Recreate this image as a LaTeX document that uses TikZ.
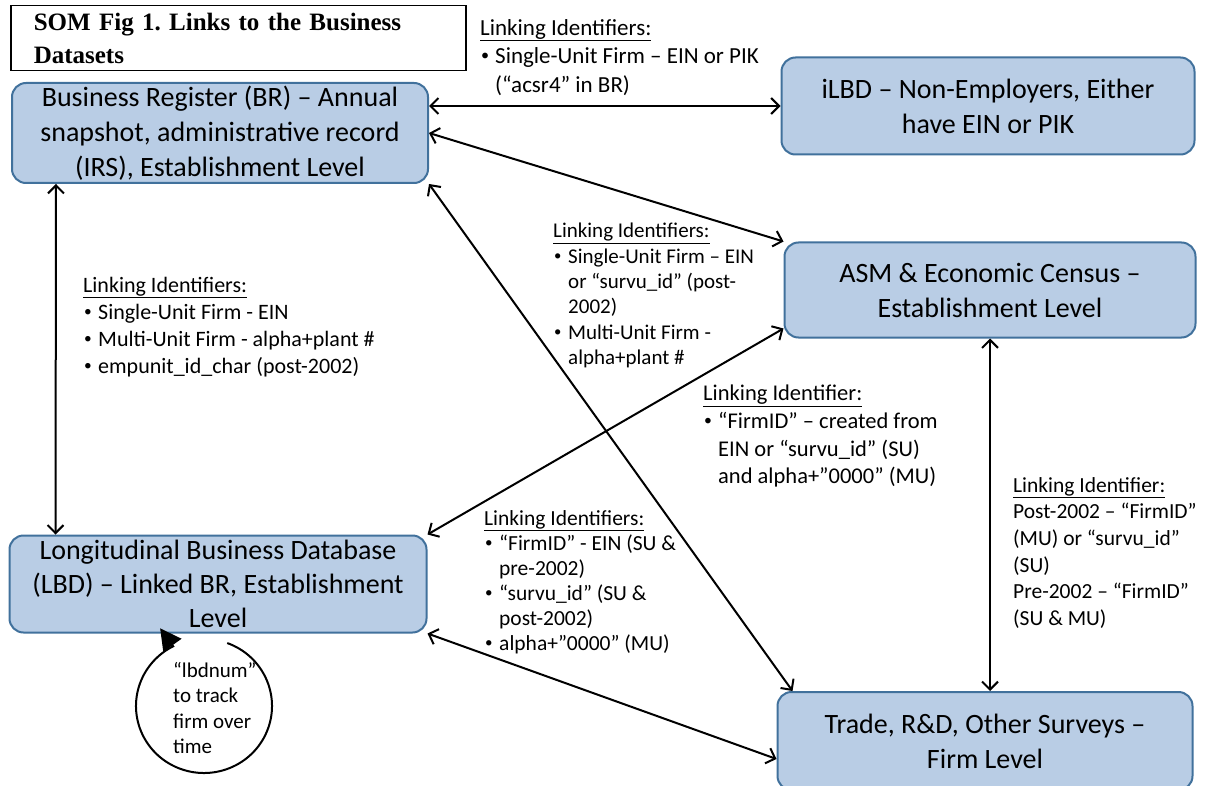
\documentclass[tikz,border=0pt]{standalone}
\usepackage{fontspec}
\setmainfont{Carlito}
\newfontfamily\titlefont{Liberation Serif}
\usetikzlibrary{arrows.meta,positioning,calc}
\definecolor{BoxFill}{RGB}{185,205,229}
\definecolor{BoxLine}{RGB}{65,113,156}

\tikzset{
	dataset/.style={draw=BoxLine, fill=BoxFill, line width=2pt, rounded corners=14pt,
		align=center, inner sep=0pt, font=\fontsize{28}{35}\selectfont},
	idlabel/.style={anchor=north west, align=left, inner sep=0pt, font=\fontsize{21}{25.4}\selectfont},
	link/.style={{Straight Barb[length=8pt,width=16pt]}-{Straight Barb[length=8pt,width=16pt]}, line width=2pt},
}
\newcommand{\bul}{\makebox[15pt][l]{\hspace{1pt}\raisebox{0.12em}{\scalebox{0.7}{\textbullet}}}}
\newcommand{\ind}{\makebox[15pt]{}}
\newcommand{\lhead}[1]{\underline{#1}}

\begin{document}
\frenchspacing
\begin{tikzpicture}[x=1pt, y=-1pt]
	\useasboundingbox (0,0) rectangle (1212,786);
	\fill[white] (0,0) rectangle (1212,786);
	% title
	\node[draw, line width=1.5pt, anchor=north west, text width=409pt, minimum height=65pt,
		inner xsep=23pt, align=left, font=\titlefont\bfseries\fontsize{25}{33}\selectfont]
		(title) at (10,5) {SOM Fig 1. Links to the Business\\Datasets};
	% datasets
	\node[dataset, minimum width=416pt, minimum height=100pt] (br) at (220,133)
		{Business Register (BR) – Annual\\snapshot, administrative record\\(IRS), Establishment Level};
	\node[dataset, minimum width=413pt, minimum height=97pt] (ilbd) at (988,106)
		{iLBD – Non-Employers, Either\\have EIN or PIK};
	\node[dataset, minimum width=411pt, minimum height=95pt] (asm) at (990,290)
		{ASM \& Economic Census –\\Establishment Level};
	\node[dataset, minimum width=417pt, minimum height=97pt, font=\fontsize{28}{34}\selectfont] (lbd) at (218,584)
		{Longitudinal Business Database\\(LBD) – Linked BR, Establishment\\Level};
	\node[dataset, minimum width=415pt, minimum height=98pt] (trade) at (985,741)
		{Trade, R\&D, Other Surveys –\\Firm Level};
	% links
	\draw[link] (br.east |- ilbd.west) -- (ilbd.west);
	\draw[link] (br.east) -- (asm.north west);
	\draw[link] ([xshift=45pt]br.south west) -- ([xshift=47pt]lbd.north west);
	\draw[link] (br.south east) -- ([xshift=16pt]trade.north west);
	\draw[link] ([yshift=10pt]asm.south west) -- (lbd.north east);
	\draw[link] (lbd.south east) -- ([yshift=-18pt]trade.west);
	\draw[link] (asm.south) -- (asm.south |- trade.north);
	% lbdnum loop
	\coordinate (loopc) at (204,706);
	\draw[line width=2pt, -{Triangle[length=21pt,width=22pt]}]
		([shift={(70:68pt and 67pt)}]loopc) arc[start angle=70, end angle=-243, x radius=68pt, y radius=67pt]
		-- ++(-13,-18);
	\node[idlabel] (loopnote) at (173,662)
		{“lbdnum”\\to track\\firm over\\time};
	% identifiers
	\node[idlabel, font=\fontsize{23}{28.5}\selectfont] (idilbd) at (480,19)
		{\lhead{Linking Identifiers:}\\
		\bul Single-Unit Firm – EIN or PIK\\
		\ind (“acsr4” in BR)};
	\node[idlabel, font=\fontsize{22}{27}\selectfont] (idlbd) at (83,277)
		{\lhead{Linking Identifiers:}\\
		\bul Single-Unit Firm - EIN\\
		\bul Multi-Unit Firm - alpha+plant \#\\
		\bul empunit\_id\_char  (post-2002)};
	\node[idlabel] (idasm) at (553,223)
		{\lhead{Linking Identifiers:}\\
		\bul Single-Unit Firm – EIN\\
		\ind or “survu\_id” (post-\\
		\ind 2002)\\
		\bul Multi-Unit Firm -\\
		\ind alpha+plant \#};
	\node[idlabel, font=\fontsize{22.5}{27.7}\selectfont] (idfirm) at (703,385)
		{\lhead{Linking Identifier:}\\
		\bul “FirmID” – created from\\
		\ind EIN or “survu\_id”  (SU)\\
		\ind and alpha+”0000” (MU)};
	\node[idlabel, font=\fontsize{21.5}{25}\selectfont] (idtrade) at (484,510)
		{\lhead{Linking Identifiers:}\\
		\bul “FirmID” - EIN (SU \&\\
		\ind pre-2002)\\
		\bul “survu\_id” (SU \&\\
		\ind post-2002)\\
		\bul alpha+”0000” (MU)};
	\node[idlabel, font=\fontsize{21.5}{26.7}\selectfont] (idsurv) at (1013,477)
		{\lhead{Linking Identifier:}\\
		Post-2002 – “FirmID”\\
		(MU) or “survu\_id”\\
		(SU)\\
		Pre-2002 – “FirmID”\\
		(SU \& MU)};
\end{tikzpicture}
\end{document}
